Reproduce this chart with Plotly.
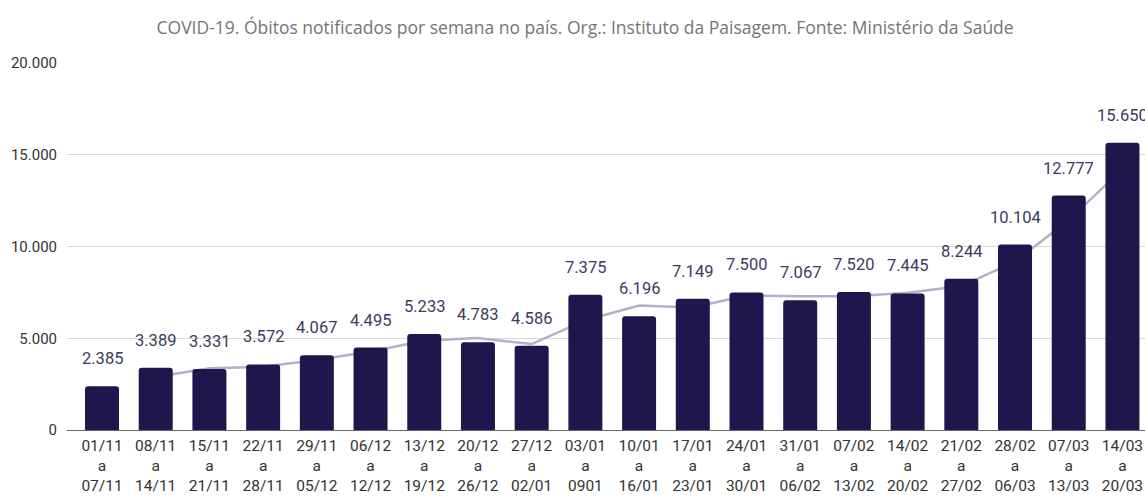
import plotly.graph_objects as go

week_start = ["01/11", "08/11", "15/11", "22/11", "29/11", "06/12", "13/12", "20/12", "27/12", "03/01",
              "10/01", "17/01", "24/01", "31/01", "07/02", "14/02", "21/02", "28/02", "07/03", "14/03"]
week_end = ["07/11", "14/11", "21/11", "28/11", "05/12", "12/12", "19/12", "26/12", "02/01", "0901",
            "16/01", "23/01", "30/01", "06/02", "13/02", "20/02", "27/02", "06/03", "13/03", "20/03"]
deaths = [2385, 3389, 3331, 3572, 4067, 4495, 5233, 4783, 4586, 7375,
          6196, 7149, 7500, 7067, 7520, 7445, 8244, 10104, 12777, 15650]
# trend line (2-week moving average)
trend = [None, 2887, 3360, 3452, 3820, 4281, 4864, 5008, 4685, 5981,
         6786, 6673, 7325, 7284, 7294, 7483, 7845, 9174, 11441, 14214]

categories = [f"{a}<br>a<br>{b}" for a, b in zip(week_start, week_end)]

BAR = "#20164e"
LINE = "#b5afc8"
XR = [-0.652, 19.42]
YR = [0, 20000]

fig = go.Figure()
fig.add_trace(go.Scatter(
    x=categories, y=trend, mode="lines",
    line=dict(color=LINE, width=2.5),
    xaxis="x", yaxis="y", hoverinfo="skip", showlegend=False,
))
fig.add_trace(go.Bar(
    x=categories, y=deaths, marker=dict(color=BAR, cornerradius=3, line=dict(width=0)),
    xaxis="x2", yaxis="y2", showlegend=False,
))

annotations = []
for c, v in zip(categories, deaths):
    annotations.append(dict(
        x=c, y=v, xref="x2", yref="y2", text=f"{v:,}".replace(",", "."),
        showarrow=False, yanchor="bottom", yshift=16,
        font=dict(family="Roboto", size=16.5, color="#3d3b5c"),
    ))

fig.update_layout(
    width=1145, height=497,
    margin=dict(l=67, r=0, t=63, b=67),
    paper_bgcolor="white", plot_bgcolor="white",
    separators=",.",
    bargap=0.367,
    title=dict(
        text="COVID-19. Óbitos notificados por semana no país. Org.: Instituto da Paisagem. Fonte: Ministério da Saúde",
        x=0.511, xanchor="center", xref="container",
        y=1 - 28 / 497, yanchor="middle", yref="container",
        font=dict(family="Open Sans", size=17.5, color="#757575"),
    ),
    xaxis=dict(
        type="category", range=XR, showgrid=False, showline=True, automargin=False,
        linecolor="#666666", linewidth=1, ticks="", ticklabelstandoff=1,
        tickfont=dict(family="Roboto", size=15.5, color="#333333"),
    ),
    yaxis=dict(
        range=YR, tickvals=[0, 5000, 10000, 15000, 20000], tickformat=",d",
        showgrid=True, gridcolor="#d9d9d9", gridwidth=1, zeroline=False, automargin=False,
        showline=False, ticks="", ticklabelstandoff=9,
        tickfont=dict(family="Roboto", size=15, color="#333333"),
    ),
    xaxis2=dict(type="category", range=XR, overlaying="x", visible=False),
    yaxis2=dict(range=YR, overlaying="y", visible=False),
    annotations=annotations,
)

fig.write_html("out.html", config={"displayModeBar": False},
               post_script="document.body.style.margin='0';document.body.style.padding='0';")
